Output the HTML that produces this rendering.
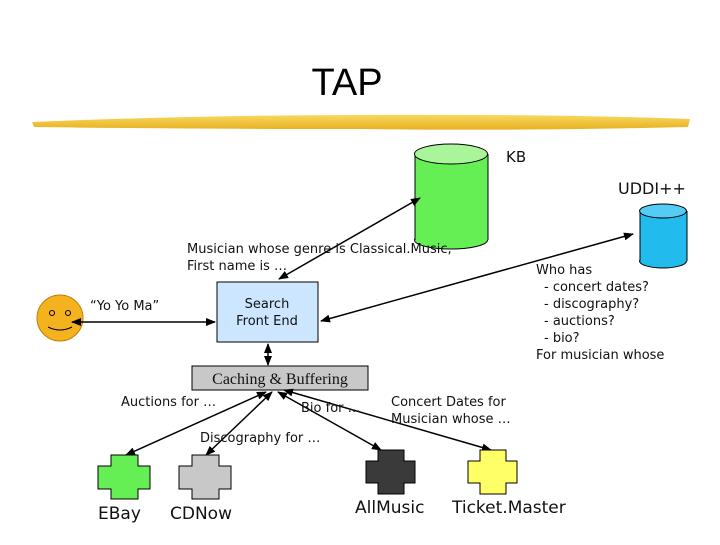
<!DOCTYPE html>
<html><head><style>
body{margin:0;width:720px;height:540px;background:#fff;overflow:hidden}
svg text{font-family:"DejaVu Sans","Liberation Sans",sans-serif;font-size:13px;fill:#111}
</style></head><body>
<svg width="720" height="540" viewBox="0 0 720 540">
<defs>
<marker id="a" markerWidth="10" markerHeight="8" refX="9" refY="4" orient="auto-start-reverse" markerUnits="userSpaceOnUse"><path d="M0,0 L10,4 L0,8 Z" fill="#000"/></marker>
<linearGradient id="y" x1="0" y1="0" x2="0" y2="1"><stop offset="0" stop-color="#f8d860"/><stop offset="1" stop-color="#e8b020"/></linearGradient>
</defs>
<text x="347" y="95" text-anchor="middle" style="font-family:'Liberation Sans',sans-serif;font-size:38px;fill:#000">TAP</text>
<path d="M32,122 Q200,115 360,115 Q560,114 690,119 L688,127 Q520,131 360,129 Q180,129 34,127 Z" fill="url(#y)"/>
<!-- KB -->
<ellipse cx="451" cy="240" rx="36.5" ry="9" fill="#66ee55" stroke="#000"/>
<rect x="415" y="154" width="73" height="86" fill="#66ee55"/>
<line x1="415" y1="154" x2="415" y2="240" stroke="#000"/><line x1="488" y1="154" x2="488" y2="240" stroke="#000"/>
<ellipse cx="451" cy="154" rx="36.5" ry="10" fill="#aaf59a" stroke="#000"/>
<text x="506" y="162" style="font-size:15px">KB</text>
<!-- UDDI -->
<ellipse cx="663" cy="261" rx="23.5" ry="7" fill="#22bbee" stroke="#000"/>
<rect x="640" y="211" width="47" height="50" fill="#22bbee"/>
<line x1="640" y1="211" x2="640" y2="261" stroke="#000"/><line x1="687" y1="211" x2="687" y2="261" stroke="#000"/>
<ellipse cx="663" cy="211" rx="23.5" ry="7" fill="#55ccf5" stroke="#000"/>
<text x="618" y="194" style="font-size:16px">UDDI++</text>
<!-- Search -->
<rect x="217" y="282" width="101" height="60" fill="#cce6ff" stroke="#000"/>
<text x="267" y="308" text-anchor="middle">Search</text>
<text x="267" y="325" text-anchor="middle">Front End</text>
<text x="187" y="253">Musician whose genre is Classical.Music,</text>
<text x="187" y="270">First name is …</text>
<text x="90" y="310">“Yo Yo Ma”</text>
<text x="536" y="274">Who has</text>
<text x="544" y="291">- concert dates?</text>
<text x="544" y="308">- discography?</text>
<text x="544" y="325">- auctions?</text>
<text x="544" y="342">- bio?</text>
<text x="536" y="359">For musician whose</text>
<!-- smiley -->
<circle cx="60" cy="318" r="23" fill="#f4b21e" stroke="#c08000"/>
<circle cx="52" cy="313" r="2.5" fill="none" stroke="#000"/><circle cx="68" cy="313" r="2.5" fill="none" stroke="#000"/>
<path d="M48,327 Q60,333 72,327" fill="none" stroke="#000"/>
<!-- Caching -->
<rect x="192" y="366" width="176" height="24" fill="#c8c8c8" stroke="#000"/>
<text x="280" y="384" text-anchor="middle" style="font-family:'Liberation Serif',serif;font-size:16px">Caching &amp; Buffering</text>
<!-- arrows -->
<g stroke="#000" stroke-width="1.5" fill="none">
<line x1="72" y1="322" x2="215" y2="322" marker-start="url(#a)" marker-end="url(#a)"/>
<line x1="279" y1="279" x2="420" y2="198" marker-start="url(#a)" marker-end="url(#a)"/>
<line x1="321" y1="321" x2="633" y2="234" marker-start="url(#a)" marker-end="url(#a)"/>
<line x1="268" y1="344" x2="268" y2="365" marker-start="url(#a)" marker-end="url(#a)"/>
<line x1="266" y1="392" x2="126" y2="455" marker-start="url(#a)" marker-end="url(#a)"/>
<line x1="272" y1="392" x2="206" y2="455" marker-start="url(#a)" marker-end="url(#a)"/>
<line x1="278" y1="392" x2="381" y2="450" marker-start="url(#a)" marker-end="url(#a)"/>
<line x1="284" y1="390" x2="491" y2="450" marker-start="url(#a)" marker-end="url(#a)"/>
</g>
<text x="121" y="406">Auctions for …</text>
<text x="301" y="412">Bio for …</text>
<text x="391" y="406">Concert Dates for</text>
<text x="391" y="423">Musician whose …</text>
<text x="200" y="442">Discography for …</text>
<!-- crosses -->
<g stroke="#000">
<path d="M111,455 h27 v11 h12 v23 h-12 v10 h-27 v-10 h-13 v-23 h13 z" fill="#66ee55"/>
<path d="M192,455 h27 v11 h12 v23 h-12 v10 h-27 v-10 h-13 v-23 h13 z" fill="#c8c8c8"/>
<path d="M378,450 h26 v11 h11 v22 h-11 v11 h-26 v-11 h-12 v-22 h12 z" fill="#3a3a3a"/>
<path d="M480,450 h26 v11 h11 v22 h-11 v11 h-26 v-11 h-12 v-22 h12 z" fill="#ffff66"/>
</g>
<text x="98" y="519" style="font-size:17px">EBay</text>
<text x="170" y="519" style="font-size:17px">CDNow</text>
<text x="355" y="513" style="font-size:17px">AllMusic</text>
<text x="452" y="513" style="font-size:17px">Ticket.Master</text>
</svg>
</body></html>
